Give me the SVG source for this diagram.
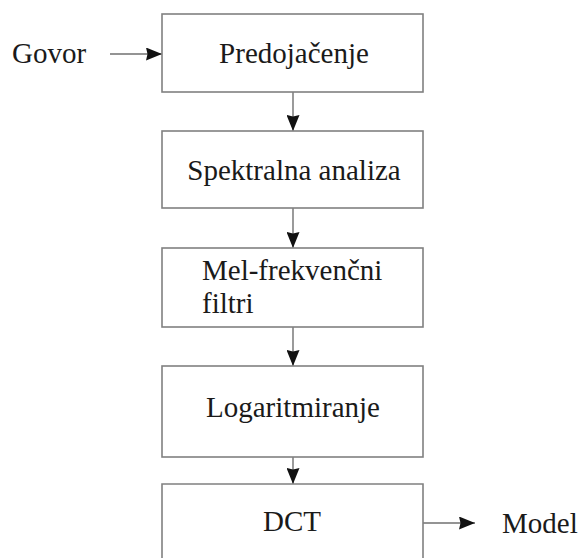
<svg xmlns="http://www.w3.org/2000/svg" width="579" height="558" viewBox="0 0 579 558">
<defs>
<style>
.box{fill:#fff;stroke:#808080;stroke-width:1.6}
.t{font-family:"Liberation Serif","Times New Roman",serif;font-size:29px;fill:#1a1a1a}
.c{text-anchor:middle}
.ln{stroke:#707070;stroke-width:1.4;fill:none}
</style>
<marker id="ah" viewBox="0 0 16 13" refX="16" refY="6.5" markerWidth="16" markerHeight="13" markerUnits="userSpaceOnUse" orient="auto">
<path d="M0,0 L16,6.5 L0,13 L1.5,6.5 Z" fill="#111"/>
</marker>
</defs>
<rect width="579" height="558" fill="#fff"/>
<g id="connectors">
<line class="ln" x1="110" y1="54" x2="162" y2="54" marker-end="url(#ah)"/>
<line class="ln" x1="293" y1="92" x2="293" y2="131" marker-end="url(#ah)"/>
<line class="ln" x1="293" y1="208" x2="293" y2="248" marker-end="url(#ah)"/>
<line class="ln" x1="293" y1="327" x2="293" y2="366" marker-end="url(#ah)"/>
<line class="ln" x1="293" y1="457" x2="293" y2="484" marker-end="url(#ah)"/>
<line class="ln" x1="423" y1="523" x2="475" y2="523" marker-end="url(#ah)"/>
</g>
<g id="govor"><text class="t" x="12" y="63" font-size="28">Govor</text></g>
<g id="predojacenje">
<rect class="box" x="162" y="14" width="261" height="78"/>
<text class="t c" x="294" y="63">Predojačenje</text>
</g>
<g id="spektralna">
<rect class="box" x="162" y="131" width="261" height="77"/>
<text class="t c" x="294" y="180">Spektralna analiza</text>
</g>
<g id="mel">
<rect class="box" x="162" y="248" width="261" height="79"/>
<text class="t" x="202" y="280">Mel-frekvenčni</text>
<text class="t" x="202" y="313">filtri</text>
</g>
<g id="log">
<rect class="box" x="162" y="366" width="261" height="91"/>
<text class="t c" x="293" y="417">Logaritmiranje</text>
</g>
<g id="dct">
<path class="box" d="M162,560 L162,484 L423,484 L423,560"/>
<text class="t c" x="292" y="531">DCT</text>
</g>
<g id="model"><text class="t" x="502" y="533">Model</text></g>
</svg>
